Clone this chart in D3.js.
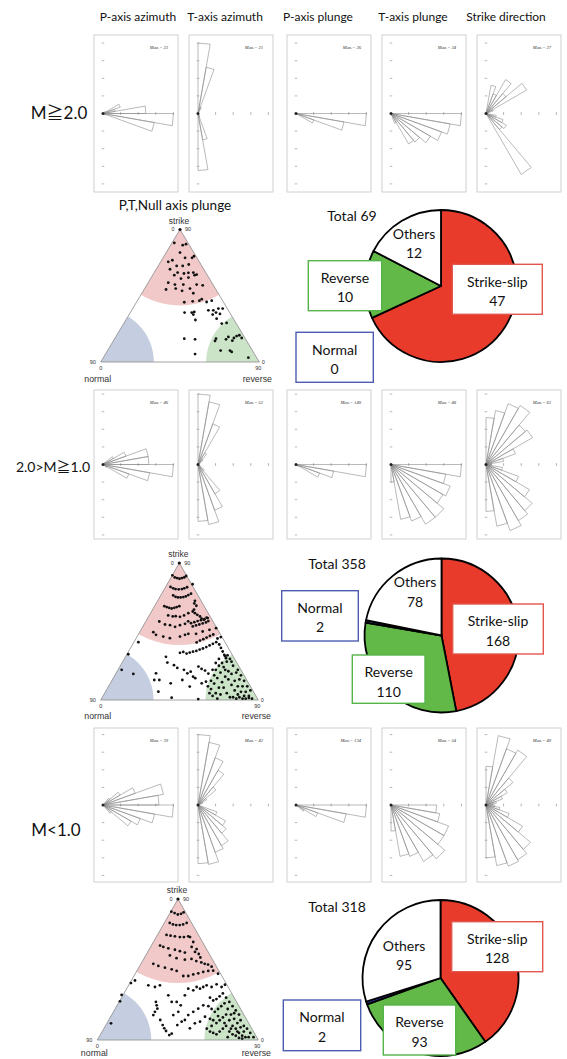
<!DOCTYPE html>
<html>
<head>
<meta charset="utf-8">
<script src="https://cdn.jsdelivr.net/npm/d3@7"></script>
<style>
  html, body { margin: 0; padding: 0; background: #fff; }
  svg { display: block; }
</style>
</head>
<body>
<svg id="fig" width="567" height="1059"></svg>
<script>
// ------------------------------------------------------------------
// Data
// ------------------------------------------------------------------
const columnTitles = ["P-axis azimuth", "T-axis azimuth", "P-axis plunge", "T-axis plunge", "Strike direction"];
const columnKinds  = ["az", "az", "pl", "pl", "az"];   // az: 0-180 from north, pl: 0-90 from horizontal
const magnitudeLabels = ["M≧2.0", "2.0>M≧1.0", "M<1.0"];

// Rose diagram counts, 10-degree bins
const pAzM20    = [0,0,0,0,0,1,6,4,14,23,17,1,0,0,0,0,0,0];
const tAzM20    = [21,14,2,0,0,0,0,0,0,0,0,0,0,0,0,1,8,17];
const pPlM20    = [26,18,7,0,0,0,0,0,0];
const tPlM20    = [34,29,26,22,18,17,5,0,0];
const strikeM20 = [0,11,8,15,10,18,3,0,0,0,4,7,9,8,27,0,0,0];
const roseMaxM20 = [23,21,26,34,27];

const pAzM10    = [0,0,0,0,2,8,16,30,30,46,31,18,3,0,0,0,0,0];
const tAzM10    = [52,47,32,10,5,2,0,0,0,0,0,0,2,6,25,36,45,42];
const pPlM10    = [140,76,50,6,0,0,0,0,0];
const tPlM10    = [48,38,43,41,47,47,41,38,12];
const strikeM10 = [42,49,58,61,46,48,28,16,5,5,15,31,45,54,58,63,56,42];
const roseMaxM10 = [46,52,140,48,63];

const pAzM00    = [0,0,0,0,5,11,19,34,31,39,29,22,18,6,0,0,0,0];
const tAzM00    = [42,38,30,24,14,6,3,0,0,0,0,12,19,22,28,30,36,35];
const pPlM00    = [134,97,44,18,5,0,0,0,0];
const tPlM00    = [35,38,47,47,54,50,42,40,20];
const strikeM00 = [22,40,34,36,20,14,10,6,4,5,8,14,24,33,36,37,35,30];
const roseMaxM00 = [39,42,134,54,40];

// Fault-type counts (pie order: clockwise from 12 o'clock)
const faultTypes = ["Strike-slip", "Reverse", "Normal", "Others"];
const countsM20 = [47, 10, 0, 12];
const countsM10 = [168, 110, 2, 78];
const countsM00 = [128, 93, 2, 95];

// P,T,Null plunge diagram points: [u, v] in percent of triangle width / height
const plungePtsM20 = [
  [46.4,89.9],[51.7,88.2],[53.8,88.9],[50.0,82.6],[58.8,79.8],[57.6,78.6],[53.2,78.6],[55.5,73.6],
  [45.2,76.8],[42.6,75.6],[47.9,72.5],[51.7,72.5],[43.7,70.0],[48.5,67.5],[52.5,66.8],[55.3,67.3],
  [58.4,67.5],[59.2,65.5],[60.5,66.0],[46.4,65.5],[50.6,63.0],[55.3,63.7],[42.6,59.9],[46.8,58.4],
  [52.1,58.4],[60.5,58.4],[64.3,57.9],[56.3,55.4],[41.2,54.7],[47.3,55.4],[51.3,53.7],[58.4,51.9],
  [52.7,45.1],[58.0,45.8],[62.2,46.3],[63.7,47.4],[66.8,45.3],[70.0,46.3],[52.9,37.3],[57.4,37.3],
  [59.0,37.8],[58.4,35.8],[67.9,39.0],[71.0,39.0],[74.2,40.3],[70.6,35.8],[72.7,37.3],[75.2,36.3],
  [76.9,40.3],[59.7,31.7],[73.1,32.7],[76.3,29.0],[79.4,29.5],[52.7,17.6],[59.5,17.1],[72.7,17.6],
  [72.1,15.9],[79.0,17.1],[80.5,18.9],[84.0,18.1],[85.7,19.6],[87.4,20.2],[88.9,18.1],[83.0,16.1],
  [75.6,8.6],[81.5,8.6],[82.6,7.6],[59.5,6.0],[93.1,3.3]
];
const plungePtsM10 = [
  [45.5,91],[47,89.5],[48.5,89],[50,88.5],[51.5,89],[53,89.5],[54.2,90.5],
  [44.3,82.5],[46,81.5],[47.5,81],[49.5,80.8],[51.5,81],[53,81.5],[54.8,82.3],[58.3,84.5],
  [46,76.3],[47.5,75.3],[49,74.9],[50.7,74.9],[52.4,75.1],[54,75.6],[55.6,76.6],[57.3,77.6],
  [59.8,72.4],[59.4,70.5],[60.7,68.8],[59.2,66],[58.4,64.6],[59.8,63.4],[61.3,62.2],[63,61],
  [64,59.3],[65.5,58.5],[67.2,60.2],[68.3,57.6],
  [40.4,68.5],[41.9,67.8],[43.4,67.3],[45,66.8],[46.7,67.3],[48.2,67.8],[49.9,68.5],
  [42.8,61.7],[45.7,61],[47.6,61.2],[50.3,60.7],[52.9,61.7],[55.6,63.4],
  [57.3,56.1],[59.4,56.8],[61.5,57.6],[63.6,58.3],[65.8,59],[67.9,59.8],[58.4,53.7],[60.5,54.4],
  [62.6,55.1],[64.7,55.9],[66.8,56.6],
  [37.2,57.3],[40.8,55.1],[44,54.6],[47.2,53.4],[50.3,54.6],[53.5,55.6],[55.5,57.4],[33.4,49.5],
  [35.1,47.6],[39.7,46.3],[43.9,45.1],[50.3,46.3],[53.5,47.6],[55.6,48.3],[60.5,48.3],[64.7,50],
  [69,51.2],[73.2,52.4],
  [23.9,42.2],[17.5,33.4],[41.4,31.5],[42.3,27.3],[50.3,34.4],[52.4,35.1],[54.5,33.9],[56.5,34.6],
  [58.6,35.3],[60.7,35.8],[62.8,36.8],[64.9,37.6],[67,38.6],[69.1,39.8],[71.2,41],[73.3,42.2],
  [75.2,40.5],[76.3,38],[77.4,35.4],[78.4,33],[79.5,30.5],[80.5,32.6],
  [60.9,42],[63,43.4],[65.1,44.4],[67.2,45.6],[69.3,46.8],[71.4,47.8],[74.1,44.9],[76.2,45.9],
  [35.1,19.5],[37.2,14.6],[34,14.6],[36.6,6.1],[45,1.7],[61.9,0.7],[13.3,22],[20.7,19],
  [52.8,22],[55,19.5],[57.1,20.7],[58.6,17],[60,15.9],[51.8,14.6],[62,24.4],[64,22.7],
  [66.2,21.5],[68.3,19.3],[46.5,25.4],[48.6,23.4],[44.4,12.2],[56.5,9.8],[64.1,12.2],[66.8,13.4],
  [70,8],[72,12],[74,16],[76,20],[78,24],[80,28],[82,30],[84,25],[86,20],[88,15],[90,10],[92,6],[94,3],
  [71,3],[73,5],[75,9],[77,13],[79,17],[81,21],[83,19],[85,14],[87,10],[89,6],[91,3],
  [73,22],[75,25],[77,27],[79,22],[81,15],[83,11],[85,7],[87,4],[80,5],[82,2],[78,9],[76,4],[74,1],
  [84,2],[86,1],[88,2],[90,1],[92,1],[94,1.5],[96,1],
  [72,18],[70,14],[68,10],[69,5],[71,22],[73,27],[75,30],[79,32],[83,28],[87,22],[89,18],[91,14],
  [93,10],[95,7]
];
const plungePtsM00 = [
  [46,91],[48,90],[50,89],[52,89.5],[53.6,90.5],
  [45,83],[47,82],[49,81.5],[51.2,81.5],[53.3,82],[55.5,83],
  [43,74.5],[45.5,74],[48.2,73.5],[51.3,73],[53.8,73],[56.5,73.5],
  [57.6,73],[59.6,69.5],[58.6,66],[60.7,62.5],[61.7,64.5],[63,61],[64,58.5],
  [39,67],[41,66],[44.1,65],[48.2,64],[51.3,63],[54.4,62],
  [45.1,60],[49.2,58],[54.4,57],[58.5,57.5],[61.5,56],[64.6,55],[66.7,54],[68.8,53.5],[71,52],
  [34.8,54],[37.9,52.5],[42,51.3],[46.2,50.1],[49.3,49],[53.4,45.4],[56.5,45.4],[59.6,46.5],
  [62.7,47.3],[65.8,48.3],[68.9,49],[72,49.2],[75,47],
  [20.9,40.4],[23.4,42.2],[15.1,32],[14.1,27.4],[8.5,11.8],
  [31.7,38.8],[35.8,37.6],[38.9,38.8],[44.1,31.7],[46.2,27],[49.3,27],[51.8,24.6],[54.4,31.7],
  [56.5,36.4],[59.6,35.2],[61.7,37.6],[63.8,36.4],[65.8,37.6],[67.9,38.8],[71,37.6],[74.1,39.5],
  [77.2,37.6],[79.3,39.2],
  [36.4,27],[36.9,24.6],[37.3,22.2],[35.8,20],[34.8,17.7],[39.1,14.2],[40.6,10.6],[41.6,8.3],
  [42.7,6.4],[44.7,3.5],[46.2,4.5],[49.7,10.6],[52.4,13],[54.4,14.2],[56.5,17.7],[59.6,20],
  [62.7,22.2],[65.8,24.6],[50.3,20],[47.2,17.7],[57.5,8.3],[60.6,11.8],[63.8,13],[66.9,16.5],
  [70,30],[72,28],[74,29],[76,31],[78,33],[80,30],[82,27],[84,24],[86,21],[88,18],
  [69,24],[71,22],[73,20],[75,22],[77,24],[79,26],[81,22],[83,18],[85,15],[87,12],[89,9],[91,6],
  [70,15],[72,14],[74,12],[76,14],[78,16],[80,18],[82,14],[84,10],[86,8],[88,5],[90,3],[92,2],[94,2],
  [68,8],[70,6],[72,5],[74,4],[76,6],[78,8],[80,10],[82,6],[84,4],[86,3],[88,1.5],[90,1],
  [71,10],[75,17],[79,12],[83,8],[87,6],[91,10],[93,8],[95,5],[97,2],[89,14],[85,19],[81,2]
];

const roseRows   = [[pAzM20,tAzM20,pPlM20,tPlM20,strikeM20],[pAzM10,tAzM10,pPlM10,tPlM10,strikeM10],[pAzM00,tAzM00,pPlM00,tPlM00,strikeM00]];
const roseMaxes  = [roseMaxM20, roseMaxM10, roseMaxM00];
const pieCounts  = [countsM20, countsM10, countsM00];
const plungePts  = [plungePtsM20, plungePtsM10, plungePtsM00];

// ------------------------------------------------------------------
// Layout
// ------------------------------------------------------------------
const svg = d3.select("#fig");
const FONT = "Lato, 'Noto Sans CJK JP', 'DejaVu Sans', sans-serif";

const panelX = [94, 189, 287, 382, 477];
const panelW = 84;
const rowBands = [[35, 192], [390, 539], [728, 882]];
const headerX = [138, 225, 318, 413, 506];
const rowLabelPos = [[59, 119, 17], [53, 472, 14], [56, 836, 17]];
const roseR = 70.4;

const triangles = [
  { apex: [180, 229.5], base: 362, left: 100.7, right: 259.3, pinkR: 76, labelDy: 19.5 },
  { apex: [179.3, 563], base: 700, left: 100.7, right: 258.3, pinkR: 82, labelDy: 18.5 },
  { apex: [178, 899], base: 1040, left: 97.3, right: 258.3, pinkR: 84, labelDy: 15.5 }
];

const pieLayout = [
  { cx: 441, cy: 286, r: 76, total: [352, 216], others: [414, 234],
    boxes: { "Strike-slip": [452.3, 264.3, 90, 50], "Reverse": [308.3, 260.7, 73.4, 50], "Normal": [296, 332.3, 77.3, 50] } },
  { cx: 441.5, cy: 635.5, r: 77, total: [337, 564], others: [415, 582.3],
    boxes: { "Strike-slip": [452.7, 604, 90.6, 50], "Reverse": [352.3, 655, 72.7, 48.3], "Normal": [281.7, 590.7, 76.6, 50.3] } },
  { cx: 440.5, cy: 978, r: 78, total: [337, 907], others: [404, 945.7],
    boxes: { "Strike-slip": [451.7, 921.7, 91, 50], "Reverse": [383.3, 1005, 72.4, 50], "Normal": [283.3, 1000, 77.4, 50.7] } }
];

const sliceFill = { "Strike-slip": "#e83b2b", "Reverse": "#62b947", "Normal": "#25318a", "Others": "#ffffff" };
const boxStroke = { "Strike-slip": "#e2564c", "Reverse": "#56b34a", "Normal": "#4d5cb2" };

// ------------------------------------------------------------------
// Column headers and magnitude labels
// ------------------------------------------------------------------
svg.append("g").selectAll("text").data(columnTitles).join("text")
  .attr("x", (d, i) => headerX[i]).attr("y", 21)
  .attr("text-anchor", "middle")
  .attr("font-family", FONT).attr("font-size", 12).attr("fill", "#111")
  .text(d => d);

svg.append("g").selectAll("text").data(magnitudeLabels).join("text")
  .attr("x", (d, i) => rowLabelPos[i][0]).attr("y", (d, i) => rowLabelPos[i][1])
  .attr("text-anchor", "middle")
  .attr("font-family", FONT).attr("font-size", (d, i) => rowLabelPos[i][2]).attr("fill", "#111")
  .text(d => d);

// ------------------------------------------------------------------
// Rose diagrams
// ------------------------------------------------------------------
function drawRose(g, ox, oy, counts, kind, maxVal) {
  const r = d3.scaleLinear().domain([0, maxVal]).range([0, roseR]);
  const start = kind === "pl" ? 90 : 0;    // plunge measured downward from east
  const pt = (deg, rr) => {
    const a = deg * Math.PI / 180;
    return [ox + rr * Math.sin(a), oy - rr * Math.cos(a)];
  };
  const wedges = counts.map((c, i) => ({ c, a0: start + i * 10, a1: start + i * 10 + 10 })).filter(d => d.c > 0);
  g.selectAll("path.wedge").data(wedges).join("path")
    .attr("class", "wedge")
    .attr("d", d => {
      const p0 = pt(d.a0, r(d.c)), p1 = pt(d.a1, r(d.c));
      return `M${ox},${oy}L${p0[0]},${p0[1]}L${p1[0]},${p1[1]}Z`;
    })
    .attr("fill", "none").attr("stroke", "#8c8c8c").attr("stroke-width", 0.6);

  const tickVals = d3.range(1, 5).map(k => maxVal * k / 4);
  // radial ticks along east axis
  g.selectAll("line.tx").data(tickVals).join("line")
    .attr("class", "tx")
    .attr("x1", d => ox + r(d)).attr("x2", d => ox + r(d))
    .attr("y1", oy - 1.3).attr("y2", oy + 1.3)
    .attr("stroke", "#777").attr("stroke-width", 0.6);
  // ticks along north-south axis
  const vt = tickVals.flatMap(v => [v, -v]);
  g.selectAll("line.ty").data(vt).join("line")
    .attr("class", "ty")
    .attr("x1", ox - 1.3).attr("x2", ox + 1.3)
    .attr("y1", d => oy - Math.sign(d) * r(Math.abs(d))).attr("y2", d => oy - Math.sign(d) * r(Math.abs(d)))
    .attr("stroke", "#888").attr("stroke-width", 0.6);
  g.append("circle").attr("cx", ox).attr("cy", oy).attr("r", 1.5).attr("fill", "#222");
}

roseRows.forEach((row, ri) => {
  const [top, bottom] = rowBands[ri];
  row.forEach((counts, ci) => {
    const g = svg.append("g");
    const x0 = panelX[ci];
    g.append("rect").attr("x", x0).attr("y", top).attr("width", panelW).attr("height", bottom - top)
      .attr("fill", "#fff").attr("stroke", "#c4c4c4").attr("stroke-width", 0.8);
    const ox = x0 + 9, oy = (top + bottom) / 2;
    drawRose(g, ox, oy, counts, columnKinds[ci], roseMaxes[ri][ci]);
    g.append("text").attr("x", x0 + 74).attr("y", top + 14)
      .attr("text-anchor", "end")
      .attr("font-family", "'Liberation Serif', serif").attr("font-style", "italic")
      .attr("font-size", 4.6).attr("fill", "#333")
      .text("Max.= " + roseMaxes[ri][ci]);
  });
});

// ------------------------------------------------------------------
// P,T,Null axis plunge triangles
// ------------------------------------------------------------------
svg.append("text").attr("x", 175).attr("y", 210).attr("text-anchor", "middle")
  .attr("font-family", FONT).attr("font-size", 13.5).attr("fill", "#111")
  .text("P,T,Null axis plunge");

triangles.forEach((t, ti) => {
  const g = svg.append("g");
  const xs = d3.scaleLinear().domain([0, 100]).range([t.left, t.right]);
  const ys = d3.scaleLinear().domain([0, 100]).range([t.base, t.apex[1]]);
  const side = t.right - t.left;
  const triPts = [[t.apex[0], t.apex[1]], [t.left, t.base], [t.right, t.base]];
  const clipId = "triclip" + ti;
  g.append("clipPath").attr("id", clipId).append("polygon").attr("points", triPts.map(p => p.join(",")).join(" "));

  const regions = g.append("g").attr("clip-path", `url(#${clipId})`);
  regions.append("circle").attr("cx", t.apex[0]).attr("cy", t.apex[1]).attr("r", t.pinkR).attr("fill", "#f1c9c9");
  regions.append("circle").attr("cx", t.left).attr("cy", t.base).attr("r", 0.335 * side).attr("fill", "#c5cde0");
  regions.append("circle").attr("cx", t.right).attr("cy", t.base).attr("r", 0.335 * side).attr("fill", "#cbe4c8");

  g.append("polygon").attr("points", triPts.map(p => p.join(",")).join(" "))
    .attr("fill", "none").attr("stroke", "#8a8a8a").attr("stroke-width", 0.8);

  g.selectAll("circle.pt").data(plungePts[ti]).join("circle")
    .attr("class", "pt")
    .attr("cx", d => xs(d[0])).attr("cy", d => ys(d[1])).attr("r", 1.4).attr("fill", "#111");

  g.append("circle").attr("cx", t.apex[0]).attr("cy", t.apex[1]).attr("r", 1.6).attr("fill", "#111");

  const lab = (x, y, s, size) => g.append("text").attr("x", x).attr("y", y)
    .attr("text-anchor", "middle").attr("font-family", "'Liberation Sans', Arial, sans-serif")
    .attr("font-size", size).attr("fill", "#333").text(s);
  lab(t.apex[0] - 1, t.apex[1] - 6, "strike", 8.5);
  lab(t.apex[0] - 7, t.apex[1] + 1.5, "0", 5.5);
  lab(t.apex[0] + 8, t.apex[1] + 1.5, "90", 5.5);
  lab(t.left - 8, t.base + 1.5, "90", 5.5);
  lab(t.left, t.base + 8, "0", 5.5);
  lab(t.left - 3, t.base + t.labelDy, "normal", 8.8);
  lab(t.right + 4, t.base + 1.5, "0", 5.5);
  lab(t.right - 1, t.base + 8, "90", 5.5);
  lab(t.right - 2, t.base + t.labelDy, "reverse", 8.8);
});

// ------------------------------------------------------------------
// Fault-type pies
// ------------------------------------------------------------------
const pie = d3.pie().sort(null).value(d => d.n);

pieCounts.forEach((counts, pi) => {
  const L = pieLayout[pi];
  const g = svg.append("g");
  const data = faultTypes.map((k, i) => ({ k, n: counts[i] }));
  const total = d3.sum(counts);
  const arc = d3.arc().innerRadius(0).outerRadius(L.r);

  const slices = g.append("g").attr("transform", `translate(${L.cx},${L.cy})`);
  slices.selectAll("path").data(pie(data).filter(d => d.data.n > 0)).join("path")
    .attr("d", arc)
    .attr("fill", d => sliceFill[d.data.k])
    .attr("stroke", "#000").attr("stroke-width", 1.8).attr("stroke-linejoin", "round");

  g.append("text").attr("x", L.total[0]).attr("y", L.total[1]).attr("dy", "0.35em")
    .attr("text-anchor", "middle").attr("font-family", FONT).attr("font-size", 14).attr("fill", "#111")
    .text("Total " + total);

  const others = data.find(d => d.k === "Others");
  [others.k, String(others.n)].forEach((s, j) => {
    g.append("text").attr("x", L.others[0]).attr("y", L.others[1] + j * 19.3).attr("dy", "0.35em")
      .attr("text-anchor", "middle").attr("font-family", FONT).attr("font-size", 14).attr("fill", "#111")
      .text(s);
  });

  data.filter(d => d.k !== "Others").forEach(d => {
    const b = L.boxes[d.k];
    g.append("rect").attr("x", b[0]).attr("y", b[1]).attr("width", b[2]).attr("height", b[3])
      .attr("fill", "#fff").attr("stroke", boxStroke[d.k]).attr("stroke-width", 1.4);
    [d.k, String(d.n)].forEach((s, j) => {
      g.append("text").attr("x", b[0] + b[2] / 2).attr("y", b[1] + 17.5 + j * 19.3).attr("dy", "0.35em")
        .attr("text-anchor", "middle").attr("font-family", FONT).attr("font-size", 14).attr("fill", "#111")
        .text(s);
    });
  });
});
</script>
</body>
</html>
